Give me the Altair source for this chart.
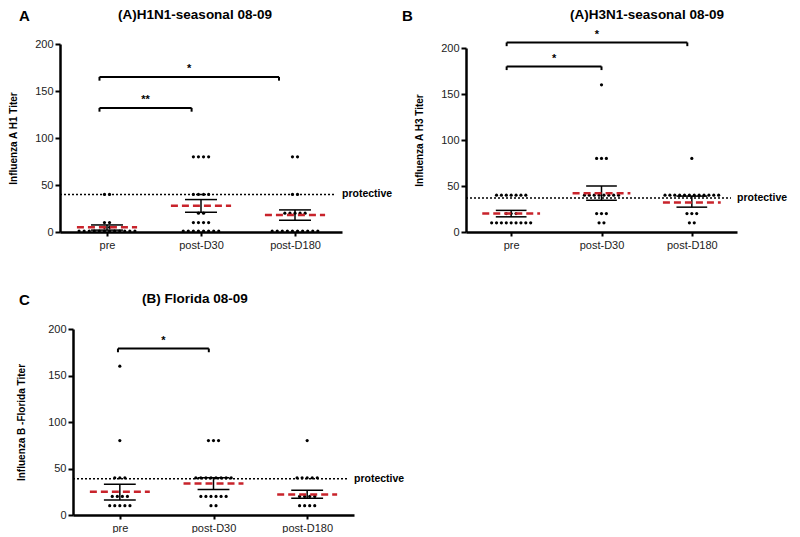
import json
import altair as alt
import pandas as pd

FONT = "Liberation Sans"
groups = ["pre", "post-D30", "post-D180"]

# ---- Panel A : (A)H1N1-seasonal 08-09 ----
A_levels = [80, 40, 20, 10, 5, 1]
A_pre = [0, 2, 0, 2, 2, 12]
A_d30 = [4, 4, 2, 4, 0, 8]
A_d180 = [2, 2, 5, 0, 0, 10]
A_mean = [5, 28, 18]
A_lo = [2, 21, 12.5]
A_hi = [7.5, 34.5, 23.5]
A_br_x1 = [-0.08, -0.08]
A_br_x2 = [0.9, 1.83]
A_br_y = [132, 165]
A_br_lab = ["**", "*"]

# ---- Panel B : (A)H3N1-seasonal 08-09 ----
B_levels = [160, 80, 40, 20, 10]
B_pre = [0, 0, 7, 3, 9]
B_d30 = [1, 3, 8, 3, 2]
B_d180 = [0, 1, 12, 3, 2]
B_mean = [20, 42, 32]
B_lo = [16.5, 34.5, 27]
B_hi = [23.5, 50, 39]
B_br_x1 = [-0.05, -0.05]
B_br_x2 = [1.0, 1.95]
B_br_y = [180, 206]
B_br_lab = ["*", "*"]

# ---- Panel C : (B) Florida 08-09 ----
C_levels = [160, 80, 40, 20, 10]
C_pre = [1, 1, 3, 4, 5]
C_d30 = [0, 3, 8, 6, 2]
C_d180 = [0, 1, 5, 4, 4]
C_mean = [25, 34, 22]
C_lo = [16, 27.5, 18]
C_hi = [33, 40, 26.5]
C_br_x1 = [-0.02]
C_br_x2 = [0.95]
C_br_y = [179]
C_br_lab = ["*"]

protective = [40, 37, 39]
y_ticks = [0, 50, 100, 150, 200]

RED = "#c8232b"
SPACING = 0.054


def dot_frame(levels, counts_by_group):
    rows = []
    for gi, counts in enumerate(counts_by_group):
        for lv, n in zip(levels, counts):
            for i in range(n):
                rows.append({"x": gi + (i - (n - 1) / 2) * SPACING, "y": lv})
    return pd.DataFrame(rows)


label_expr = json.dumps(groups) + "[round(datum.value)]"


def panel(letter, title, ytitle, levels, counts, mean, lo, hi, prot,
          bx1, bx2, by, blab, w, h, x0, y0, tx, ty, lx, ly, ypad):
    xs = alt.Scale(domain=[-0.5, 2.5], nice=False, zero=False, range=[x0, w])
    ys = alt.Scale(domain=[0, 200], nice=False, range=[h, y0])
    xaxis = alt.Axis(values=[0, 1, 2], labelExpr=label_expr, title=None, grid=False,
                     domainColor="black", domainWidth=2.5, tickColor="black",
                     tickWidth=2, tickSize=4, labelFont=FONT, labelFontSize=11,
                     labelColor="#222", labelPadding=3)
    yaxis = alt.Axis(values=y_ticks, title=ytitle, grid=False, domainColor="black",
                     domainWidth=2.5, tickColor="black", tickWidth=2, tickSize=5,
                     labelFont=FONT, labelFontSize=11, labelColor="#222",
                     labelPadding=2, titleFont=FONT, titleFontSize=10,
                     titleFontWeight="bold", titleColor="black", titlePadding=ypad,
                     offset=-x0)

    def X(f):
        return alt.X(f, scale=xs, axis=xaxis)

    def Y(f):
        return alt.Y(f, scale=ys, axis=yaxis)

    dots = alt.Chart(dot_frame(levels, counts)).mark_circle(
        size=10, color="black", opacity=1).encode(x=X("x:Q"), y=Y("y:Q"))

    st = pd.DataFrame({"x": [0, 1, 2], "mean": mean, "lo": lo, "hi": hi})
    st["xl"] = st["x"] - 0.32
    st["xr"] = st["x"] + 0.32
    st["cl"] = st["x"] - 0.17
    st["cr"] = st["x"] + 0.17
    base = alt.Chart(st)
    vbar = base.mark_rule(color="black", strokeWidth=1.5).encode(
        x=X("x:Q"), y=Y("lo:Q"), y2="hi:Q")
    cap_lo = base.mark_rule(color="black", strokeWidth=1.5).encode(
        x=X("cl:Q"), x2="cr:Q", y=Y("lo:Q"))
    cap_hi = base.mark_rule(color="black", strokeWidth=1.5).encode(
        x=X("cl:Q"), x2="cr:Q", y=Y("hi:Q"))
    red = base.mark_rule(color=RED, strokeWidth=2.5, strokeDash=[7, 4]).encode(
        x=X("xl:Q"), x2="xr:Q", y=Y("mean:Q"))

    pdf = pd.DataFrame({"p": [prot]})
    pline = alt.Chart(pdf).mark_rule(color="black", strokeWidth=1.5,
                                     strokeDash=[2, 2]).encode(
        y=Y("p:Q"), x=alt.value(x0), x2=alt.value(w - 6))
    ptext = alt.Chart(pdf).mark_text(align="left", baseline="middle", font=FONT,
                                     fontSize=10.5, fontWeight="bold",
                                     color="black").encode(
        y=Y("p:Q"), x=alt.value(w), text=alt.value("protective"))

    bdf = pd.DataFrame({"x1": bx1, "x2": bx2, "y": by, "lab": blab})
    bdf["yt"] = bdf["y"] - 4
    bdf["xm"] = (bdf["x1"] + bdf["x2"]) / 2
    bdf["ys"] = bdf["y"] + 8
    bb = alt.Chart(bdf)
    bh = bb.mark_rule(color="black", strokeWidth=2).encode(
        x=X("x1:Q"), x2="x2:Q", y=Y("y:Q"))
    bl = bb.mark_rule(color="black", strokeWidth=2).encode(
        x=X("x1:Q"), y=Y("yt:Q"), y2="y:Q")
    br = bb.mark_rule(color="black", strokeWidth=2).encode(
        x=X("x2:Q"), y=Y("yt:Q"), y2="y:Q")
    stars = bb.mark_text(font=FONT, fontSize=11, fontWeight="bold", color="black",
                         baseline="middle").encode(
        x=X("xm:Q"), y=Y("ys:Q"), text="lab:N")

    tdf = pd.DataFrame({"t": [letter], "title": [title]})
    lt = alt.Chart(tdf).mark_text(
        align="left", baseline="top", font=FONT, fontSize=15, fontWeight="bold",
        color="black").encode(x=alt.value(lx), y=alt.value(ly), text="t:N")
    tt = alt.Chart(tdf).mark_text(
        align="center", baseline="alphabetic", font=FONT, fontSize=13.5,
        fontWeight="bold", color="black").encode(
        x=alt.value(tx), y=alt.value(ty), text="title:N")

    return alt.layer(pline, dots, vbar, cap_lo, cap_hi, red, ptext, bh, bl, br,
                     stars, lt, tt).properties(width=w, height=h)


pA = panel("A", "(A)H1N1-seasonal 08-09", "Influenza A H1 Titer", A_levels,
           [A_pre, A_d30, A_d180], A_mean, A_lo, A_hi, protective[0],
           A_br_x1, A_br_x2, A_br_y, A_br_lab, 282, 188, 0, 0,
           135, -25, -41, -35, 16)
pB = panel("B", "(A)H3N1-seasonal 08-09", "Influenza A H3 Titer", B_levels,
           [B_pre, B_d30, B_d180], B_mean, B_lo, B_hi, protective[1],
           B_br_x1, B_br_x2, B_br_y, B_br_lab, 271, 188, 0, 4,
           181, -25, -64, -35, 16)
pC = panel("C", "(B) Florida 08-09", "Influenza B -Florida Titer", C_levels,
           [C_pre, C_d30, C_d180], C_mean, C_lo, C_hi, protective[2],
           C_br_x1, C_br_x2, C_br_y, C_br_lab, 294, 186, 13, 0,
           135, -26, -41, -36, 21)

chart = alt.vconcat(
    alt.hconcat(pA, pB, spacing=9), pC, spacing=42
).properties(
    padding={"left": 0, "top": 0, "right": 0, "bottom": 0}, background="white"
).configure_view(stroke=None)

chart.save("out.html", embed_options={"renderer": "svg", "actions": False})
